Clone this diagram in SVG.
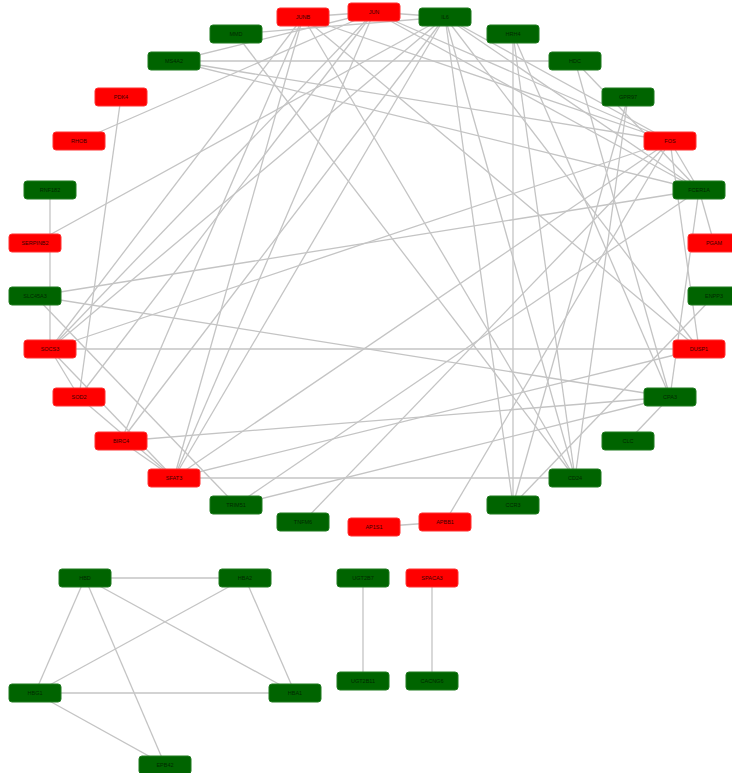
<svg xmlns="http://www.w3.org/2000/svg" width="732" height="773" viewBox="0 0 732 773">
<style>
.e{stroke:#c4c4c4;stroke-width:1.3;fill:none}
.r rect{fill:#ff0000;stroke:#ff3030;stroke-width:1}
.g rect{fill:#006400;stroke:#1f7a1f;stroke-width:1}
text{font-family:"Liberation Sans",Arial,sans-serif;font-size:5.5px;fill:#3a0000;text-anchor:middle;dominant-baseline:central}
.g text{fill:#002a00}
</style>
<rect width="732" height="773" fill="#ffffff"/>
<g id="connectors">
<line class="e" x1="174" y1="61" x2="575" y2="61"/>
<line class="e" x1="303" y1="17" x2="374" y2="12"/>
<line class="e" x1="374" y1="12" x2="445" y2="17"/>
<line class="e" x1="513" y1="34" x2="513" y2="505"/>
<line class="e" x1="50" y1="190" x2="50" y2="349"/>
<line class="e" x1="50" y1="349" x2="699" y2="349"/>
<line class="e" x1="174" y1="478" x2="575" y2="478"/>
<line class="e" x1="374" y1="527" x2="445" y2="522"/>
<line class="e" x1="79" y1="141" x2="374" y2="12"/>
<line class="e" x1="35" y1="243" x2="445" y2="17"/>
<line class="e" x1="121" y1="97" x2="79" y2="397"/>
<line class="e" x1="303" y1="17" x2="575" y2="478"/>
<line class="e" x1="303" y1="17" x2="174" y2="478"/>
<line class="e" x1="303" y1="17" x2="121" y2="441"/>
<line class="e" x1="303" y1="17" x2="699" y2="349"/>
<line class="e" x1="575" y1="61" x2="670" y2="397"/>
<line class="e" x1="628" y1="97" x2="575" y2="478"/>
<line class="e" x1="699" y1="190" x2="670" y2="397"/>
<line class="e" x1="699" y1="190" x2="714" y2="243"/>
<line class="e" x1="35" y1="296" x2="699" y2="190"/>
<line class="e" x1="35" y1="296" x2="670" y2="397"/>
<line class="e" x1="35" y1="296" x2="236" y2="505"/>
<line class="e" x1="374" y1="12" x2="670" y2="141"/>
<line class="e" x1="374" y1="12" x2="699" y2="190"/>
<line class="e" x1="236" y1="34" x2="575" y2="478"/>
<line class="e" x1="236" y1="34" x2="445" y2="17"/>
<line class="e" x1="445" y1="17" x2="50" y2="349"/>
<line class="e" x1="445" y1="17" x2="174" y2="478"/>
<line class="e" x1="374" y1="12" x2="50" y2="349"/>
<line class="e" x1="374" y1="12" x2="174" y2="478"/>
<line class="e" x1="374" y1="12" x2="79" y2="397"/>
<line class="e" x1="445" y1="17" x2="121" y2="441"/>
<line class="e" x1="303" y1="17" x2="50" y2="349"/>
<line class="e" x1="670" y1="141" x2="50" y2="349"/>
<line class="e" x1="670" y1="141" x2="174" y2="478"/>
<line class="e" x1="670" y1="141" x2="699" y2="349"/>
<line class="e" x1="445" y1="17" x2="670" y2="141"/>
<line class="e" x1="445" y1="17" x2="699" y2="190"/>
<line class="e" x1="445" y1="17" x2="699" y2="349"/>
<line class="e" x1="445" y1="17" x2="513" y2="505"/>
<line class="e" x1="445" y1="17" x2="575" y2="478"/>
<line class="e" x1="174" y1="61" x2="699" y2="190"/>
<line class="e" x1="174" y1="61" x2="670" y2="141"/>
<line class="e" x1="670" y1="397" x2="628" y2="441"/>
<line class="e" x1="714" y1="296" x2="513" y2="505"/>
<line class="e" x1="699" y1="349" x2="174" y2="478"/>
<line class="e" x1="121" y1="441" x2="670" y2="397"/>
<line class="e" x1="236" y1="505" x2="670" y2="397"/>
<line class="e" x1="236" y1="505" x2="699" y2="190"/>
<line class="e" x1="303" y1="522" x2="670" y2="141"/>
<line class="e" x1="445" y1="522" x2="670" y2="141"/>
<line class="e" x1="513" y1="505" x2="628" y2="97"/>
<line class="e" x1="513" y1="34" x2="575" y2="478"/>
<line class="e" x1="513" y1="34" x2="670" y2="397"/>
<line class="e" x1="670" y1="141" x2="699" y2="190"/>
<line class="e" x1="575" y1="61" x2="699" y2="190"/>
<line class="e" x1="174" y1="61" x2="374" y2="12"/>
<line class="e" x1="303" y1="17" x2="670" y2="141"/>
<line class="e" x1="50" y1="349" x2="174" y2="478"/>
<line class="e" x1="50" y1="349" x2="79" y2="397"/>
<line class="e" x1="79" y1="397" x2="174" y2="478"/>
<line class="e" x1="121" y1="441" x2="174" y2="478"/>
<line class="e" x1="85" y1="578" x2="245" y2="578"/>
<line class="e" x1="85" y1="578" x2="35" y2="693"/>
<line class="e" x1="85" y1="578" x2="165" y2="765"/>
<line class="e" x1="85" y1="578" x2="295" y2="693"/>
<line class="e" x1="245" y1="578" x2="35" y2="693"/>
<line class="e" x1="245" y1="578" x2="295" y2="693"/>
<line class="e" x1="35" y1="693" x2="295" y2="693"/>
<line class="e" x1="35" y1="693" x2="165" y2="765"/>
<line class="e" x1="363" y1="578" x2="363" y2="681"/>
<line class="e" x1="432" y1="578" x2="432" y2="681"/>
</g>
<g id="n-JUNB" class="r"><rect x="277" y="8" width="52" height="18" rx="3"/><text x="303" y="17">JUNB</text></g>
<g id="n-JUN" class="r"><rect x="348" y="3" width="52" height="18" rx="3"/><text x="374" y="12">JUN</text></g>
<g id="n-IL6" class="g"><rect x="419" y="8" width="52" height="18" rx="3"/><text x="445" y="17">IL6</text></g>
<g id="n-HRH4" class="g"><rect x="487" y="25" width="52" height="18" rx="3"/><text x="513" y="34">HRH4</text></g>
<g id="n-HDC" class="g"><rect x="549" y="52" width="52" height="18" rx="3"/><text x="575" y="61">HDC</text></g>
<g id="n-GPR" class="g"><rect x="602" y="88" width="52" height="18" rx="3"/><text x="628" y="97">GPR97</text></g>
<g id="n-FOS" class="r"><rect x="644" y="132" width="52" height="18" rx="3"/><text x="670" y="141">FOS</text></g>
<g id="n-FCER1A" class="g"><rect x="673" y="181" width="52" height="18" rx="3"/><text x="699" y="190">FCER1A</text></g>
<g id="n-PGAM" class="r"><rect x="688" y="234" width="52" height="18" rx="3"/><text x="714" y="243">PGAM</text></g>
<g id="n-ENPP3" class="g"><rect x="688" y="287" width="52" height="18" rx="3"/><text x="714" y="296">ENPP3</text></g>
<g id="n-DUSP1" class="r"><rect x="673" y="340" width="52" height="18" rx="3"/><text x="699" y="349">DUSP1</text></g>
<g id="n-CPA3" class="g"><rect x="644" y="388" width="52" height="18" rx="3"/><text x="670" y="397">CPA3</text></g>
<g id="n-CLC" class="g"><rect x="602" y="432" width="52" height="18" rx="3"/><text x="628" y="441">CLC</text></g>
<g id="n-CD24" class="g"><rect x="549" y="469" width="52" height="18" rx="3"/><text x="575" y="478">CD24</text></g>
<g id="n-CCR3" class="g"><rect x="487" y="496" width="52" height="18" rx="3"/><text x="513" y="505">CCR3</text></g>
<g id="n-APOB" class="r"><rect x="419" y="513" width="52" height="18" rx="3"/><text x="445" y="522">APBB1</text></g>
<g id="n-AP1" class="r"><rect x="348" y="518" width="52" height="18" rx="3"/><text x="374" y="527">AP1S1</text></g>
<g id="n-TNF" class="g"><rect x="277" y="513" width="52" height="18" rx="3"/><text x="303" y="522">TNFM6</text></g>
<g id="n-TRIM" class="g"><rect x="210" y="496" width="52" height="18" rx="3"/><text x="236" y="505">TRIM51</text></g>
<g id="n-STAT3" class="r"><rect x="148" y="469" width="52" height="18" rx="3"/><text x="174" y="478">SFAT3</text></g>
<g id="n-BIRC" class="r"><rect x="95" y="432" width="52" height="18" rx="3"/><text x="121" y="441">BIRC4</text></g>
<g id="n-SOD2" class="r"><rect x="53" y="388" width="52" height="18" rx="3"/><text x="79" y="397">SOD2</text></g>
<g id="n-SOCS3" class="r"><rect x="24" y="340" width="52" height="18" rx="3"/><text x="50" y="349">SOCS3</text></g>
<g id="n-SLC" class="g"><rect x="9" y="287" width="52" height="18" rx="3"/><text x="35" y="296">SLC45A3</text></g>
<g id="n-SERPINB2" class="r"><rect x="9" y="234" width="52" height="18" rx="3"/><text x="35" y="243">SERPINB2</text></g>
<g id="n-RNF182" class="g"><rect x="24" y="181" width="52" height="18" rx="3"/><text x="50" y="190">RNF182</text></g>
<g id="n-RHOB" class="r"><rect x="53" y="132" width="52" height="18" rx="3"/><text x="79" y="141">RHOB</text></g>
<g id="n-PDK4" class="r"><rect x="95" y="88" width="52" height="18" rx="3"/><text x="121" y="97">PDK4</text></g>
<g id="n-MS4A2" class="g"><rect x="148" y="52" width="52" height="18" rx="3"/><text x="174" y="61">MS4A2</text></g>
<g id="n-MMD" class="g"><rect x="210" y="25" width="52" height="18" rx="3"/><text x="236" y="34">MMD</text></g>
<g id="n-HBD" class="g"><rect x="59" y="569" width="52" height="18" rx="3"/><text x="85" y="578">HBD</text></g>
<g id="n-HBA2" class="g"><rect x="219" y="569" width="52" height="18" rx="3"/><text x="245" y="578">HBA2</text></g>
<g id="n-HBG1" class="g"><rect x="9" y="684" width="52" height="18" rx="3"/><text x="35" y="693">HBG1</text></g>
<g id="n-HBA1" class="g"><rect x="269" y="684" width="52" height="18" rx="3"/><text x="295" y="693">HBA1</text></g>
<g id="n-EPB42" class="g"><rect x="139" y="756" width="52" height="18" rx="3"/><text x="165" y="765">EPB42</text></g>
<g id="n-UGT2B7" class="g"><rect x="337" y="569" width="52" height="18" rx="3"/><text x="363" y="578">UGT2B7</text></g>
<g id="n-SPACA" class="r"><rect x="406" y="569" width="52" height="18" rx="3"/><text x="432" y="578">SPACA3</text></g>
<g id="n-UGT2B11" class="g"><rect x="337" y="672" width="52" height="18" rx="3"/><text x="363" y="681">UGT2B11</text></g>
<g id="n-CACNG6" class="g"><rect x="406" y="672" width="52" height="18" rx="3"/><text x="432" y="681">CACNG6</text></g>
</svg>
